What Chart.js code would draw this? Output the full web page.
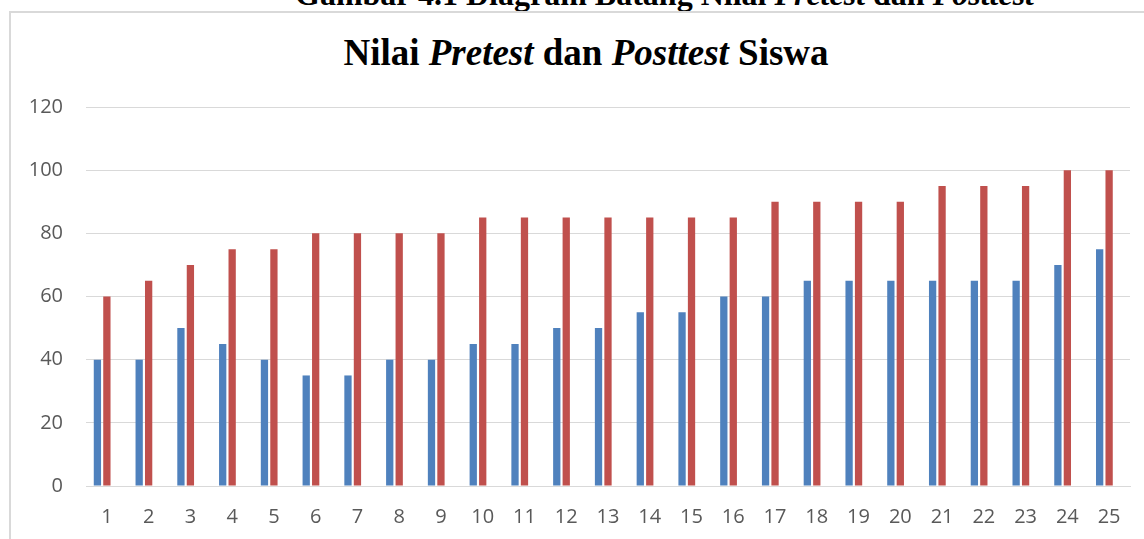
<!DOCTYPE html>
<html>
<head>
<meta charset="utf-8">
<script src="https://cdn.jsdelivr.net/npm/chart.js@4.4.1/dist/chart.umd.min.js"></script>
<style>
  body { margin: 0; background: #fff; }
  #wrap { position: relative; width: 1144px; height: 539px; overflow: hidden; }
  #frame { position: absolute; left: 9px; top: 11px; width: 1140px; height: 540px;
           border-top: 2px solid #d9d9d9; border-left: 2px solid #d9d9d9; box-sizing: border-box; }
  .serif { position: absolute; left: 0; width: 100%; white-space: nowrap;
           font-family: "Liberation Serif", "Times New Roman", serif; font-weight: bold; color: #000; }
  #caption { top: -22px; font-size: 32px; line-height: 32px; padding-left: 295px; }
  #title { top: 34px; font-size: 37px; line-height: 37px; text-align: center; padding-left: 28px; box-sizing: border-box; }
  canvas { position: absolute; left: 0; top: 0; }
</style>
</head>
<body>
<div id="wrap">
  <div id="caption" class="serif">Gambar 4.1 Diagram Batang Nilai <i>Pretest</i> dan <i>Posttest</i></div>
  <div id="frame"></div>
  <div id="title" class="serif">Nilai <i>Pretest</i> dan <i>Posttest</i> Siswa</div>
  <canvas id="chart" width="1144" height="539"></canvas>
</div>

<script>
const students = ["1","2","3","4","5","6","7","8","9","10","11","12","13",
  "14","15","16","17","18","19","20","21","22","23","24","25"];

const pretest = [40, 40, 50, 45, 40, 35, 35, 40, 40, 45, 45, 50, 50,
  55, 55, 60, 60, 65, 65, 65, 65, 65, 65, 70, 75];

const posttest = [60, 65, 70, 75, 75, 80, 80, 80, 80, 85, 85, 85, 85,
  85, 85, 85, 90, 90, 90, 90, 95, 95, 95, 100, 100];

const yTicks = [0, 20, 40, 60, 80, 100, 120];

const ctx = document.getElementById("chart").getContext("2d");

new Chart(ctx, {
  type: "bar",
  data: {
    labels: students,
    datasets: [
      {
        label: "Pretest",
        data: pretest,
        backgroundColor: "#4f81bd",
        barPercentage: 0.77,
        categoryPercentage: 0.68
      },
      {
        label: "Posttest",
        data: posttest,
        backgroundColor: "#c0504d",
        barPercentage: 0.77,
        categoryPercentage: 0.68
      },
      {
        // empty slot, Excel leaves room for a third series
        label: "",
        data: [],
        backgroundColor: "rgba(0,0,0,0)",
        barPercentage: 0.77,
        categoryPercentage: 0.68
      }
    ]
  },
  options: {
    responsive: false,
    animation: false,
    layout: { padding: { top: 107, right: 14, left: 0, bottom: 0 } },
    plugins: {
      legend: { display: false },
      title: { display: false },
      tooltip: { enabled: false }
    },
    scales: {
      x: {
        grid: { display: false, drawTicks: false },
        border: { display: true, color: "#d9d9d9", width: 1 },
        ticks: {
          color: "#595959",
          font: { family: "'Open Sans'", size: 20 },
          padding: 19,
          maxRotation: 0,
          autoSkip: false
        },
        afterFit: scale => { scale.height = 53; }
      },
      y: {
        min: 0,
        max: 120,
        afterBuildTicks: scale => { scale.ticks = yTicks.map(v => ({ value: v })); },
        grid: { color: "#d9d9d9", drawTicks: false },
        border: { display: false },
        ticks: {
          color: "#595959",
          font: { family: "'Open Sans'", size: 20 },
          padding: 23
        },
        afterFit: scale => { scale.width = 86; }
      }
    }
  }
});
</script>
</body>
</html>
